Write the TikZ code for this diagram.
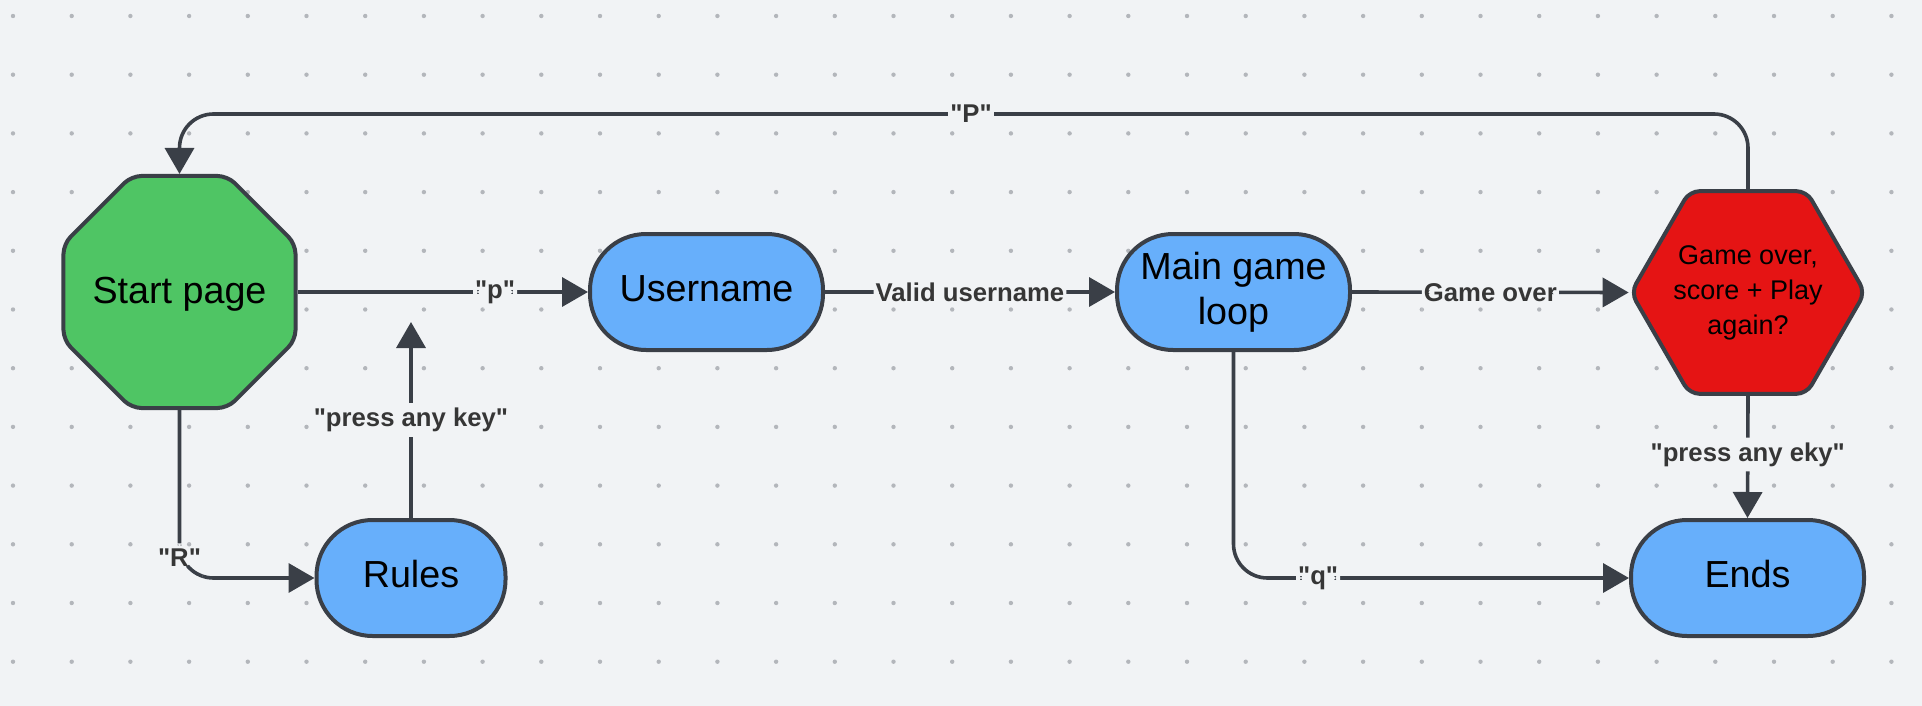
\documentclass[tikz,border=0pt]{standalone}
\usepackage{fontspec}
\setmainfont{Liberation Sans}[Ligatures=TeXOff]
\usetikzlibrary{shapes.geometric,arrows.meta,calc}
\definecolor{bg}{HTML}{F1F3F5}
\definecolor{dotc}{HTML}{B3B6BB}
\definecolor{edgec}{HTML}{3A3F47}
\definecolor{gfill}{HTML}{4FC564}
\definecolor{bfill}{HTML}{67AFFB}
\definecolor{rfill}{HTML}{E51414}
\definecolor{lblc}{HTML}{363636}
\begin{document}
\begin{tikzpicture}[x=0.5pt,y=-0.5pt,
  box/.style={draw=edgec, line width=2pt, text=black, align=center, inner sep=0pt,
    font=\fontsize{18.85}{22.5}\selectfont},
  stad/.style={box, rectangle, rounded corners=28pt, fill=bfill, minimum height=58pt},
  oneline/.style={text height=14pt, text depth=4.1pt},
  octo/.style={box, regular polygon, regular polygon sides=8, minimum size=125.6pt,
    rounded corners=5pt, fill=gfill},
  hexa/.style={box, regular polygon, regular polygon sides=6, minimum size=117pt,
    rounded corners=5pt, fill=rfill},
  intext/.style={text=black, align=center, inner sep=0pt},
  conn/.style={draw=edgec, line width=1.8pt, -{Triangle[length=13pt,width=14.5pt]},
    rounded corners=17pt},
  lbl/.style={fill=bg, text=lblc, inner xsep=1pt, inner ysep=2.5pt,
    font=\bfseries\fontsize{12.85}{15}\selectfont}
]
\fill[bg] (0,0) rectangle (1922,706);
\useasboundingbox (0,0) rectangle (1922,706);
\foreach \i in {0,...,32}
  \foreach \j in {0,...,11}
    \fill[dotc] (13+58.7*\i, 16+58.7*\j) circle (1.1pt);

% nodes
\node[octo, label={[intext, font=\fontsize{18.85}{22.5}\selectfont, yshift=-1.2pt]center:{Start page}}] (start) at (179.5,292) {};
\node[stad, oneline, minimum width=116.5pt] (user) at (706.5,292) {Username};
\node[stad, minimum width=116.5pt] (main) at (1233.5,292) {Main game\\loop};
\node[hexa, label={[intext, font=\fontsize{13.5}{17.5}\selectfont]center:{Game over,\\score + Play\\again?}}] (go) at (1748,292.5) {};
\node[stad, oneline, minimum width=94.5pt] (rules) at (411,578) {Rules};
\node[stad, oneline, minimum width=116.5pt] (ends) at (1747.5,578) {Ends};

\coordinate (pk) at (411,322);
\coordinate (topc) at (971,114);

% connectors
\draw[conn] (start.east) -- node[lbl, pos=0.68] (lp) {"p"} (user.west);
\draw[conn] (user.east) -- node[lbl, midway] (lvu) {Valid username} (main.west);
\draw[conn] (main.east) -- node[lbl, midway] (lgo) {Game over} (go.west);
\draw[conn] (go.north) |- (topc) -| (start.north);
\node[lbl] (lP) at (topc) {"P"};
\draw[conn] (start.south) |- node[lbl, pos=0.438] (lR) {"R"} (rules.west);
\draw[conn] (rules.north) -- node[lbl, midway] (lpk) {"press any key"} (pk);
\draw[conn] (main.south) |- node[lbl, pos=0.607] (lq) {"q"} (ends.west);
\draw[conn] (go.south) -- node[lbl, pos=0.48] (lpe) {"press any eky"} (ends.north);
\end{tikzpicture}
\end{document}
